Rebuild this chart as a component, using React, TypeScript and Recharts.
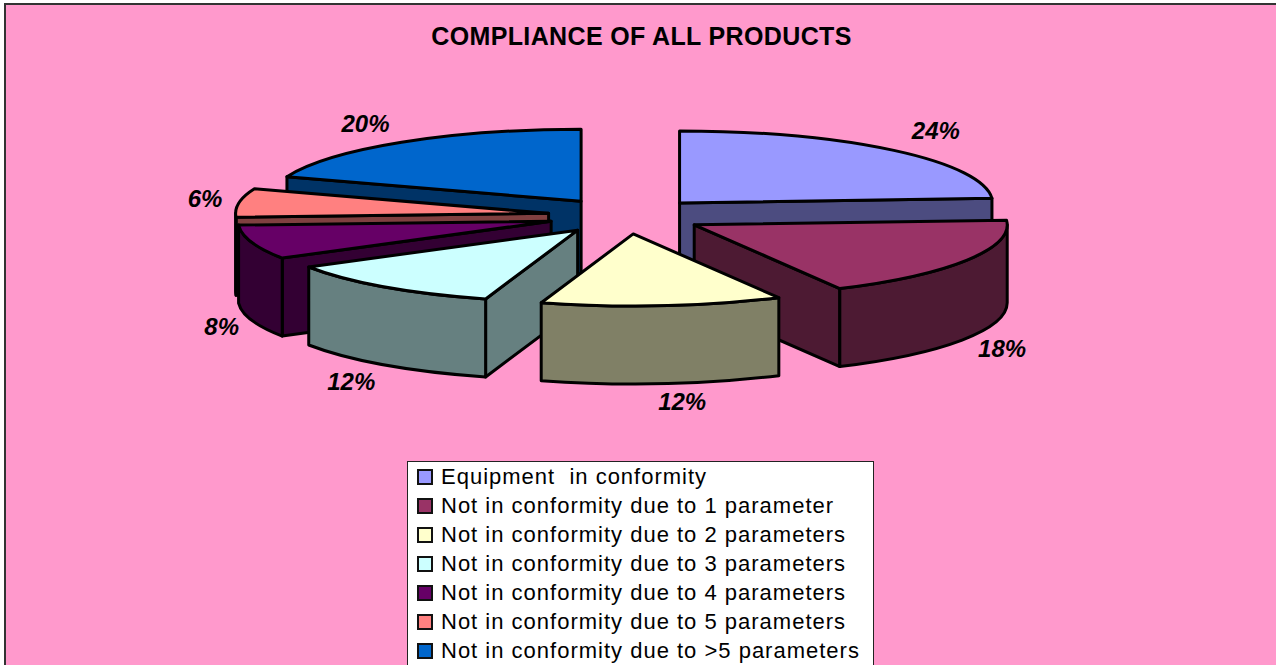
import React from "react";
import { PieChart, Pie, Legend } from "recharts";

const categories = [
  "Equipment  in conformity",
  "Not in conformity due to 1 parameter",
  "Not in conformity due to 2 parameters",
  "Not in conformity due to 3 parameters",
  "Not in conformity due to 4 parameters",
  "Not in conformity due to 5 parameters",
  "Not in conformity due to >5 parameters",
];
const shares = [24, 18.3, 12.45, 11.7, 7.7, 6.4, 19.45];
const shareLabels = ["24%", "18%", "12%", "12%", "8%", "6%", "20%"];
const topColors = ["#9999FF", "#993366", "#FFFFCC", "#CCFFFF", "#660066", "#FF8080", "#0066CC"];
const wallColors = ["#4C4C80", "#4D1A33", "#808066", "#668080", "#330033", "#804040", "#003366"];

// Painter's order, back to front, and the label offsets from each slice's rim.
const paintOrder = [0, 6, 5, 4, 3, 1, 2];
const labelOffsets = [
  [42, -20], [35, 88], [20, 96], [-33, 95], [-30, 84], [-34, -4], [-36, -19],
];

const outerR = 313;
const tilt = 72 / outerR;
const explode = 0.25;
const depth = 78;
const FONT = '"Liberation Sans", Arial, sans-serif';

const rows = categories.map((name, i) => ({ name, value: shares[i] }));

function Slice3D(props: any) {
  const { cx, cy, outerRadius: R, startAngle, endAngle, index } = props;
  const s = 90 - startAngle;
  const e = 90 - endAngle;
  const m = (s + e) / 2;
  const rad = (d: number) => (d * Math.PI) / 180;
  const ax = cx + explode * R * Math.sin(rad(m));
  const ay = cy - explode * R * tilt * Math.cos(rad(m));
  const px = (a: number) => ax + R * Math.sin(rad(a));
  const py = (a: number) => ay - R * tilt * Math.cos(rad(a));
  const ry = R * tilt;
  const large = e - s > 180 ? 1 : 0;
  const top = `M${ax},${ay} L${px(s)},${py(s)} A${R},${ry} 0 ${large} 1 ${px(e)},${py(e)} Z`;
  const radial = (a: number) =>
    `M${ax},${ay} L${px(a)},${py(a)} L${px(a)},${py(a) + depth} L${ax},${ay + depth} Z`;
  const a0 = Math.max(s, 90);
  const a1 = Math.min(e, 270);
  const wall =
    a1 > a0
      ? `M${px(a0)},${py(a0)} A${R},${ry} 0 0 1 ${px(a1)},${py(a1)} L${px(a1)},${py(a1) + depth} A${R},${ry} 0 0 0 ${px(a0)},${py(a0) + depth} Z`
      : null;
  const sideStyle = { fill: wallColors[index], stroke: "#000", strokeWidth: 3, strokeLinejoin: "round" as const };
  const showStart = Math.sin(rad(s)) < -0.001;
  const showEnd = Math.sin(rad(e)) > 0.001;
  return (
    <g>
      {showStart && <path d={radial(s)} {...sideStyle} />}
      {showEnd && <path d={radial(e)} {...sideStyle} />}
      {wall && <path d={wall} {...sideStyle} />}
      <path d={top} fill={topColors[index]} stroke="#000" strokeWidth={3} strokeLinejoin="round" />
      <text
        x={px(m) + labelOffsets[index][0]}
        y={py(m) + labelOffsets[index][1]}
        textAnchor="middle"
        dominantBaseline="central"
        fontFamily={FONT}
        fontWeight="bold"
        fontStyle="italic"
        fontSize={24}
        fill="#000"
      >
        {shareLabels[index]}
      </text>
    </g>
  );
}

function LegendBox() {
  return (
    <div
      style={{
        background: "#fff",
        border: "1px solid #222",
        width: 467,
        height: 260,
        boxSizing: "border-box",
        paddingTop: 0,
        fontFamily: FONT,
        fontSize: 22,
        letterSpacing: 1,
        color: "#000",
      }}
    >
      {categories.map((name, i) => (
        <div key={name} style={{ display: "flex", alignItems: "center", height: 29, paddingLeft: 9, whiteSpace: "pre" }}>
          <span
            style={{
              width: 12,
              height: 12,
              border: "2px solid #111",
              background: topColors[i],
              marginRight: 8,
              display: "inline-block",
              flex: "none",
            }}
          />
          <span>{name}</span>
        </div>
      ))}
    </div>
  );
}

export default function App() {
  return (
    <div style={{ position: "absolute", left: 0, top: 0, width: 1276, height: 665, overflow: "hidden", background: "#fff" }}>
      <div
        style={{
          position: "absolute",
          left: 4,
          top: 3,
          width: 1400,
          height: 800,
          background: "#FF99CC",
          borderLeft: "2px solid #333",
          borderTop: "2px solid #333",
        }}
      />
      <PieChart width={1276} height={665} style={{ position: "absolute", left: 0, top: 0 }} margin={{ top: 0, right: 0, bottom: 0, left: 0 }}>
        <text x={641.5} y={36} textAnchor="middle" dominantBaseline="central" fontFamily={FONT} fontWeight="bold" fontSize={25} letterSpacing={0.36} fill="#000">
          COMPLIANCE OF ALL PRODUCTS
        </text>
        {paintOrder.map((only) => {
          const shape = (p: any) => (p.index === only ? <Slice3D {...p} /> : <g />);
          return (
            <Pie
              key={only}
              data={rows}
              dataKey="value"
              nameKey="name"
              cx={626}
              cy={216}
              innerRadius={0}
              outerRadius={outerR}
              startAngle={90}
              endAngle={-270}
              stroke="none"
              isAnimationActive={false}
              legendType="none"
              shape={shape}
              activeShape={shape}
              inactiveShape={shape}
            />
          );
        })}
        <Legend
          content={() => <LegendBox />}
          wrapperStyle={{ position: "absolute", left: 407, top: 461, width: 467, bottom: "auto", right: "auto" }}
        />
      </PieChart>
    </div>
  );
}
